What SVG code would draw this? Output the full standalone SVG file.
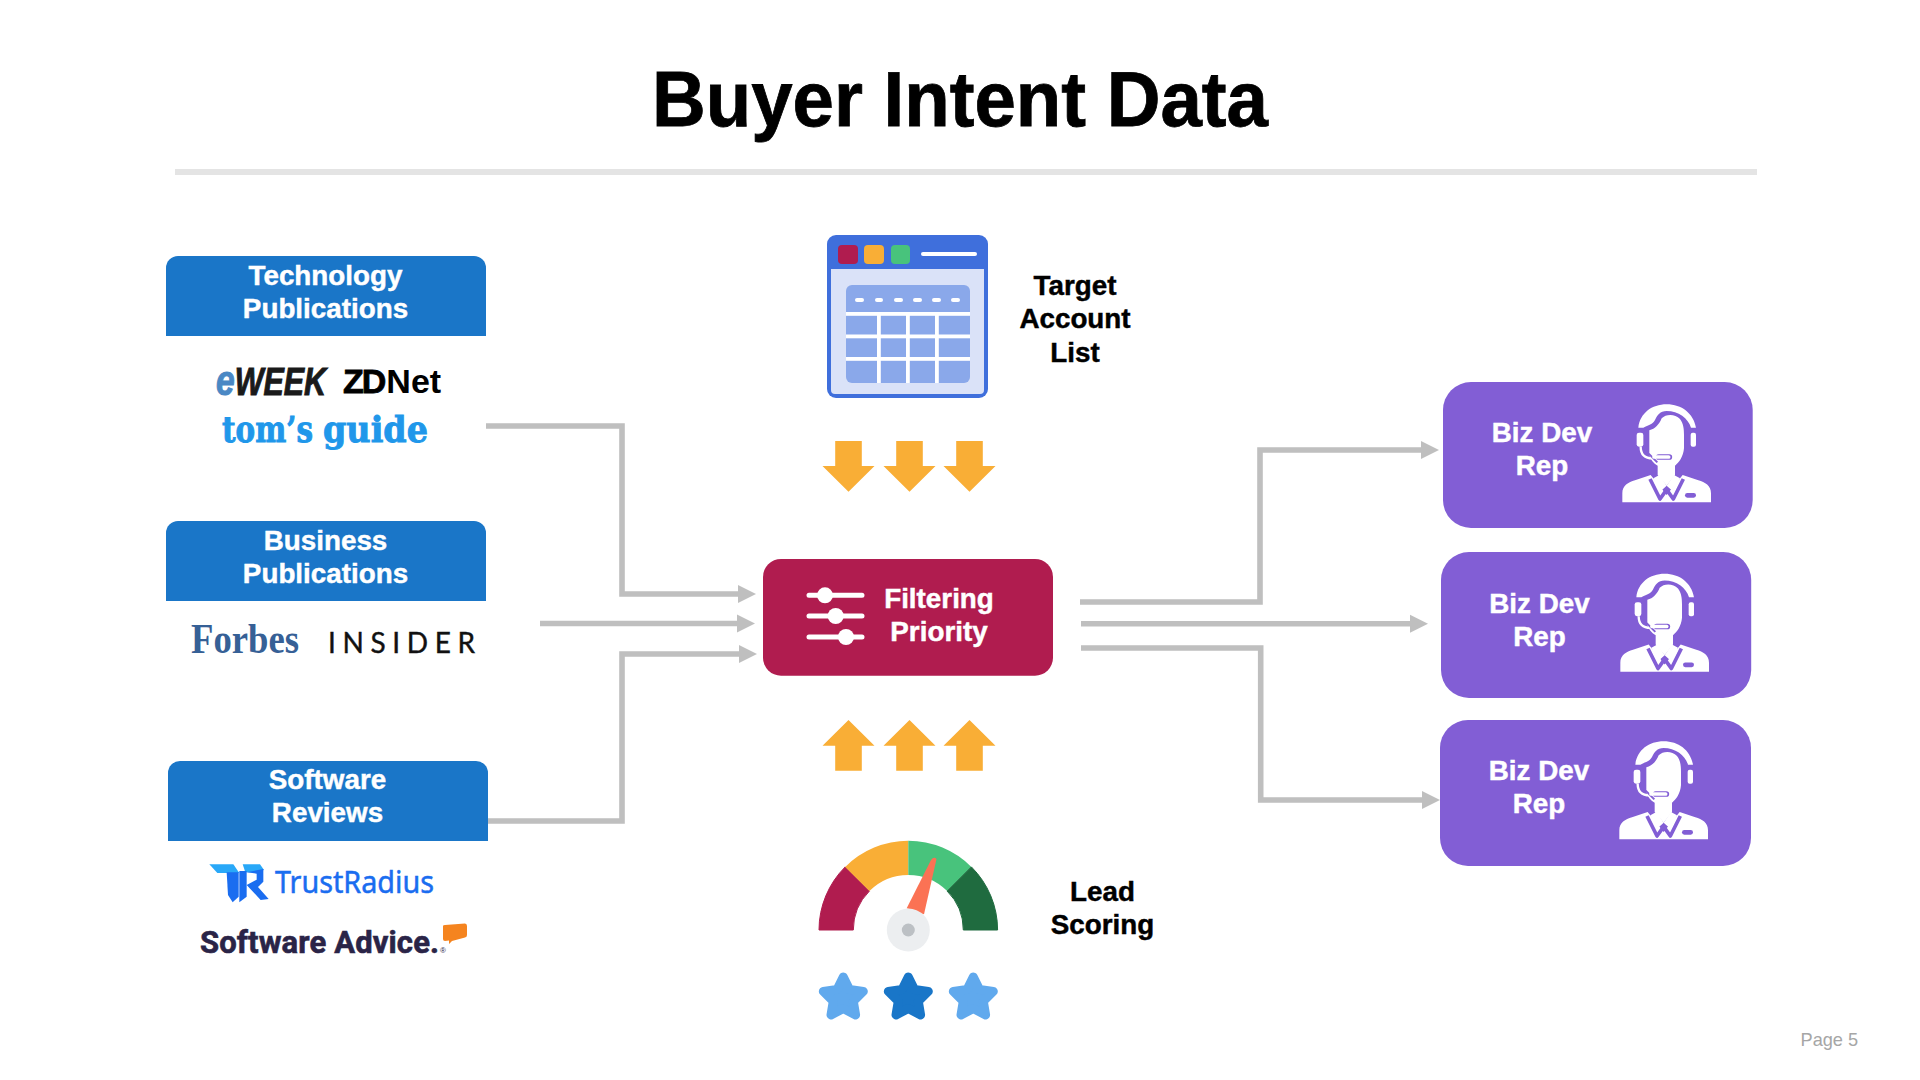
<svg xmlns="http://www.w3.org/2000/svg" width="1920" height="1080" viewBox="0 0 1920 1080">
<style>
text{font-family:"Liberation Sans",Arial,sans-serif}
.lb{font-size:27.8px;font-weight:700;text-anchor:middle;stroke-width:.45px}
.w{fill:#fff}
.k{fill:#000}
text.w{stroke:#fff}
text.k{stroke:#000}
.hdr{fill:#1a76c8}
.rep{fill:#825ed5}
.conn{fill:none;stroke:#bfbfbf;stroke-width:5.6;stroke-linejoin:miter}
.org{fill:#f9ae36}
</style>
<defs>
<marker id="ah" markerUnits="userSpaceOnUse" markerWidth="18" markerHeight="18" refX="0" refY="9" orient="auto" overflow="visible"><path d="M0 0L18 9L0 18Z" fill="#bfbfbf"/></marker>
<polygon id="down" points="-13.3,-50.7 13.3,-50.7 13.3,-25.7 26,-25.7 0,0 -26,-25.7 -13.3,-25.7" class="org"/>
<path id="star" d="M0 -20L6.2 -7.5L20 -5.6L10 4.2L12.3 18L0 11.5L-12.3 18L-10 4.2L-20 -5.6L-6.2 -7.5Z" stroke-width="9" stroke-linejoin="round"/>
<g id="agent" transform="scale(.33333)">
<path class="w" d="M85 98C90 55 125 28 170 28C215 28 250 55 258 98L243 98C235 70 205 48 170 48C150 48 142 60 135 75C128 88 115 90 100 98Z"/>
<path class="w" d="M118 106C135 102 148 88 155 70C168 56 195 56 210 72C220 85 222 100 222 120L222 160C220 185 207 203 195 212L195 240L170 272L143 240L143 212C130 205 122 195 118 180Z"/>
<rect class="w" x="80" y="113" width="20" height="42" rx="7"/>
<rect class="w" x="242" y="113" width="16" height="42" rx="6"/>
<path d="M92 155C92 178 105 190 128 190" fill="none" stroke="#fff" stroke-width="7"/>
<path d="M116 176L142 202" stroke="#825ed5" stroke-width="6" fill="none"/>
<path d="M146 186L178 186" stroke="#825ed5" stroke-width="17" stroke-linecap="round" fill="none"/>
<path d="M132 186L176 186" stroke="#fff" stroke-width="11" stroke-linecap="round" fill="none"/>
<path class="w" d="M37 322L37 295C37 272 55 262 75 256L122 240L170 300L218 240L265 256C285 262 303 272 303 295L303 322Z"/>
<path class="w" d="M130 250L148 240L170 272L150 290Z M210 250L192 240L170 272L190 290Z"/>
<path d="M120 252L150 312L170 284L190 312L220 252" fill="none" stroke="#825ed5" stroke-width="11" stroke-linejoin="round"/>
<path d="M136 258L154 290 M204 258L186 290" fill="none" stroke="#fff" stroke-width="10"/>
<rect x="225" y="294" width="33" height="14" rx="7" fill="#825ed5"/>
</g>
</defs>
<rect width="1920" height="1080" fill="#fff"/>
<g id="title">
<text x="960" y="126" font-size="78" font-weight="700" text-anchor="middle" textLength="616" lengthAdjust="spacingAndGlyphs" fill="#000" stroke="#000" stroke-width=".8">Buyer Intent Data</text>
<rect x="175" y="169" width="1582" height="6" fill="#e4e4e4"/>
</g>
<g id="connectors">
<path class="conn" d="M486 426H622V594H738" marker-end="url(#ah)"/>
<path class="conn" d="M540 623.5H737" marker-end="url(#ah)"/>
<path class="conn" d="M488 821H622V654H739" marker-end="url(#ah)"/>
<path class="conn" d="M1080 602H1260V450H1421" marker-end="url(#ah)"/>
<path class="conn" d="M1081 623.7H1410" marker-end="url(#ah)"/>
<path class="conn" d="M1081 648H1260.7V800H1422" marker-end="url(#ah)"/>
</g>
<g id="tech-publications">
<path class="hdr" d="M166 336V268a12 12 0 0 1 12-12H474a12 12 0 0 1 12 12V336Z"/>
<text class="lb w" x="325.5" y="284.5">Technology</text>
<text class="lb w" x="325.5" y="317.5">Publications</text>
<text transform="translate(216 395) scale(.8 1)" font-size="38" font-weight="700" font-style="italic" fill="#1a1a1a" stroke="#1a1a1a" stroke-width="1"><tspan font-size="42" fill="#4a88c4" stroke="#4a88c4">e</tspan><tspan>WEEK</tspan></text>
<text x="343" y="393" font-size="34" font-weight="700" fill="#000"><tspan stroke="#000" stroke-width=".8" letter-spacing="-2">Z</tspan><tspan stroke="#000" stroke-width=".8">D</tspan><tspan>Net</tspan></text>
<text x="222" y="442" style="font-family:'DejaVu Serif',serif" font-size="35" font-weight="700" fill="#2097ea" stroke="#2097ea" stroke-width=".9" textLength="91" lengthAdjust="spacingAndGlyphs">tom’s</text>
<text x="323" y="442" style="font-family:'DejaVu Serif',serif" font-size="35" font-weight="700" fill="#2097ea" stroke="#2097ea" stroke-width=".9" textLength="105" lengthAdjust="spacingAndGlyphs">guide</text>
</g>
<g id="business-publications">
<path class="hdr" d="M166 601V533a12 12 0 0 1 12-12H474a12 12 0 0 1 12 12V601Z"/>
<text class="lb w" x="325.5" y="550">Business</text>
<text class="lb w" x="325.5" y="583">Publications</text>
<text x="191" y="653" style="font-family:'Liberation Serif',serif" font-size="43" font-weight="700" fill="#366096" textLength="108" lengthAdjust="spacingAndGlyphs">Forbes</text>
<text x="328" y="653" style="font-family:Lato,sans-serif" font-size="28" fill="#111" stroke="#111" stroke-width=".4" textLength="147" lengthAdjust="spacing">INSIDER</text>
</g>
<g id="software-reviews">
<path class="hdr" d="M168 841V773a12 12 0 0 1 12-12H476a12 12 0 0 1 12 12V841Z"/>
<text class="lb w" x="327.5" y="789">Software</text>
<text class="lb w" x="327.5" y="822">Reviews</text>
<g transform="translate(200 855) scale(.33333)">
<polygon points="28,28 100,28 118,54 52,54" fill="#29a8f8"/>
<polygon points="80,52 116,52 116,125 98,142 84,120" fill="#1a6df0"/>
<polygon points="128,28 180,28 192,45 170,52 136,52" fill="#29a8f8"/>
<polygon points="118,48 140,48 140,125 118,142" fill="#1a6df0"/>
<polygon points="140,52 190,42 190,80 174,96 206,132 182,135 140,90 170,74 170,56" fill="#1a6df0"/>
</g>
<text x="275" y="893" style="font-family:'Noto Sans',sans-serif" font-size="30" fill="#1a6df0" stroke="#1a6df0" stroke-width=".5" textLength="159" lengthAdjust="spacingAndGlyphs">TrustRadius</text>
<text x="200" y="953" style="font-family:Roboto,sans-serif" font-size="31" font-weight="700" fill="#2a2447" stroke="#2a2447" stroke-width=".6" textLength="239" lengthAdjust="spacing">Software Advice.</text>
<text x="440" y="953" font-size="8" fill="#2a2447">®</text>
<path d="M443 926Q443 925 445 925L465 923.5Q467 923.5 467 926V935Q467 937 465 937.5L452 941L449 944L449 940.5L445 941Q443 941 443 939Z" fill="#f5841f"/>
</g>
<g id="target-account-list">
<rect x="827" y="235" width="161" height="163" rx="9" fill="#3f6fdc"/>
<path d="M831 269H984V390a4 4 0 0 1-4 4H835a4 4 0 0 1-4-4Z" fill="#dae2f8"/>
<rect x="846" y="285" width="124" height="98" rx="6" fill="#8aa8ea"/>
<g fill="#fff">
<rect x="846" y="312" width="124" height="3.8"/>
<rect x="846" y="334.5" width="124" height="3.8"/>
<rect x="846" y="357" width="124" height="3.8"/>
<rect x="877" y="312" width="3.8" height="71"/>
<rect x="906" y="312" width="3.8" height="71"/>
<rect x="935" y="312" width="3.8" height="71"/>
<rect x="855" y="298" width="9" height="4" rx="2"/>
<rect x="875" y="298" width="8" height="4" rx="2"/>
<rect x="894" y="298" width="9" height="4" rx="2"/>
<rect x="913" y="298" width="9" height="4" rx="2"/>
<rect x="932" y="298" width="9" height="4" rx="2"/>
<rect x="951" y="298" width="9" height="4" rx="2"/>
<rect x="921" y="252" width="56" height="4" rx="2"/>
</g>
<rect x="838" y="245" width="20" height="19" rx="4" fill="#b01c4f"/>
<rect x="864" y="245" width="20" height="19" rx="4" fill="#f9ae36"/>
<rect x="891" y="245" width="19" height="19" rx="4" fill="#48c37c"/>
<text class="lb k" x="1075" y="295">Target</text>
<text class="lb k" x="1075" y="328">Account</text>
<text class="lb k" x="1075" y="362">List</text>
</g>
<g id="down-arrows">
<use href="#down" x="848.5" y="491.7"/>
<use href="#down" x="909.5" y="491.7"/>
<use href="#down" x="969.5" y="491.7"/>
</g>
<g id="filtering-priority">
<rect x="763" y="559" width="290" height="116.7" rx="18" fill="#b01c4f"/>
<g stroke="#fff" stroke-width="5" stroke-linecap="round">
<path d="M809 595.3H862M809 616H862M809 637H862"/>
</g>
<circle cx="825" cy="595.3" r="8" fill="#fff"/>
<circle cx="835.7" cy="616" r="8" fill="#fff"/>
<circle cx="846" cy="637" r="8" fill="#fff"/>
<text class="lb w" x="939" y="607.5">Filtering</text>
<text class="lb w" x="939" y="640.5">Priority</text>
</g>
<g id="up-arrows">
<use href="#down" transform="translate(848.5 720) scale(1 -1)"/>
<use href="#down" transform="translate(909.5 720) scale(1 -1)"/>
<use href="#down" transform="translate(969.5 720) scale(1 -1)"/>
</g>
<g id="lead-scoring">
<path d="M819 930A89.3 89.3 0 0 1 845.2 866.9L869.4 891.1A55 55 0 0 0 853.3 930Z" fill="#b01c4f" stroke="#b01c4f" stroke-width="1" stroke-linejoin="round"/>
<path d="M845.2 866.9A89.3 89.3 0 0 1 908.3 840.7V875A55 55 0 0 0 869.4 891.1Z" fill="#f9ae36"/>
<path d="M908.3 840.7A89.3 89.3 0 0 1 971.4 866.9L947.2 891.1A55 55 0 0 0 908.3 875Z" fill="#48c37c"/>
<path d="M971.4 866.9A89.3 89.3 0 0 1 997.6 930H963.3A55 55 0 0 0 947.2 891.1Z" fill="#1f6b3f" stroke="#1f6b3f" stroke-width="1" stroke-linejoin="round"/>
<path d="M906.7 908.3L931 860Q934 856 936.5 859L924 914.3Z" fill="#fb7254"/>
<circle cx="908.3" cy="930" r="21.5" fill="#eceef0"/>
<circle cx="908.3" cy="930" r="6.5" fill="#bcc0c4"/>
<use href="#star" x="843.3" y="997" fill="#60a9ed" stroke="#60a9ed"/>
<use href="#star" x="908.3" y="997" fill="#1976c8" stroke="#1976c8"/>
<use href="#star" x="973.3" y="997" fill="#60a9ed" stroke="#60a9ed"/>
<text class="lb k" x="1102.5" y="900.5">Lead</text>
<text class="lb k" x="1102.5" y="934">Scoring</text>
</g>
<g id="biz-dev-rep-1">
<rect class="rep" x="1443" y="382" width="309.7" height="146" rx="28"/>
<text class="lb w" x="1542" y="442">Biz Dev</text>
<text class="lb w" x="1542" y="475">Rep</text>
<use href="#agent" x="1610" y="395"/>
</g>
<g id="biz-dev-rep-2">
<rect class="rep" x="1441" y="552" width="310.2" height="146" rx="28"/>
<text class="lb w" x="1539.5" y="612.5">Biz Dev</text>
<text class="lb w" x="1539.5" y="646">Rep</text>
<use href="#agent" x="1608" y="564.5"/>
</g>
<g id="biz-dev-rep-3">
<rect class="rep" x="1440" y="720" width="311" height="146" rx="28"/>
<text class="lb w" x="1539" y="780">Biz Dev</text>
<text class="lb w" x="1539" y="813">Rep</text>
<use href="#agent" x="1607" y="732"/>
</g>
<text id="page" x="1800.5" y="1046" font-size="18.2" fill="#a6a6a6">Page 5</text>
</svg>
